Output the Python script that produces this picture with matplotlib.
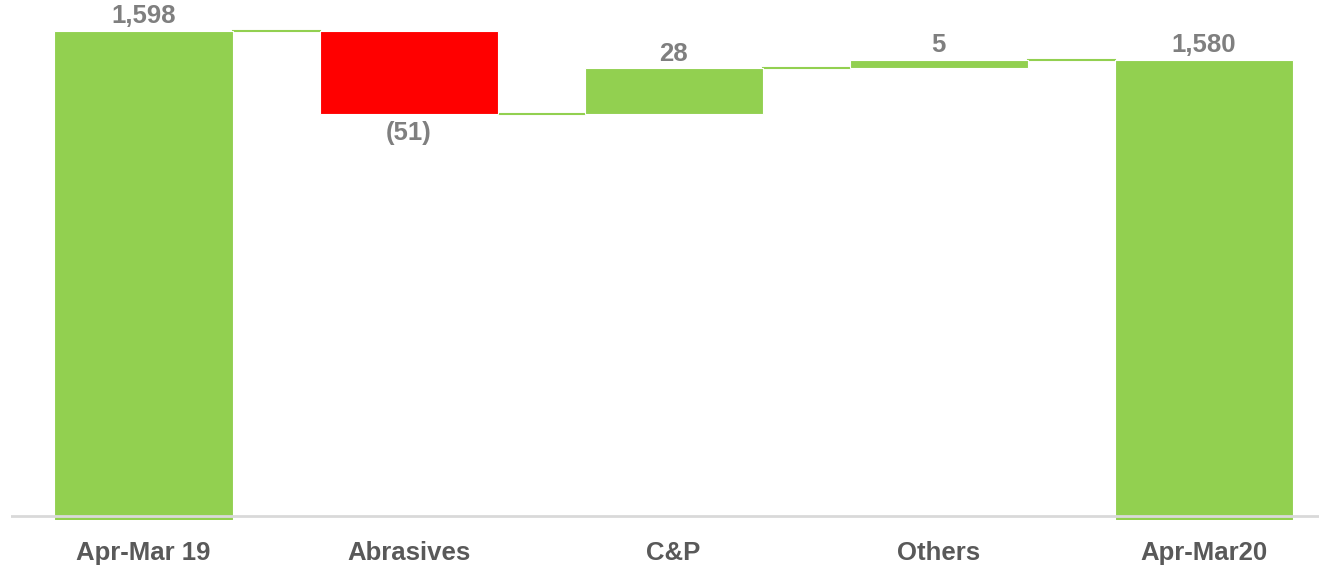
import matplotlib.pyplot as plt

categories = ['Apr-Mar 19', 'Abrasives', 'C&P', 'Others', 'Apr-Mar20']
changes = [1598, -51, 28, 5, 1580]
is_total = [True, False, False, False, True]
labels = ['1,598', '(51)', '28', '5', '1,580']

green = '#92D050'
red = '#FF0000'

plt.rcParams['font.family'] = ['Liberation Sans', 'DejaVu Sans']

fig = plt.figure(figsize=(13.19, 5.67), dpi=100)
ax = fig.add_axes([11 / 1319, 47 / 567, 1 - 11 / 1319, 520 / 567])

# work out bottoms / tops of the floating bars
bottoms, tops = [], []
running = 0
for val, tot in zip(changes, is_total):
    if tot:
        bottoms.append(0)
        tops.append(val)
        running = val
    else:
        start = running
        running = running + val
        bottoms.append(min(start, running))
        tops.append(max(start, running))

x = list(range(len(categories)))
width = 0.672
colors = [red if (not t and v < 0) else green for v, t in zip(changes, is_total)]
heights = [t - b for t, b in zip(tops, bottoms)]
ax.bar(x, heights, bottom=bottoms, width=width, color=colors,
       edgecolor='white', linewidth=0.8, zorder=3)

# connector lines between bars
levels = []
running = 0
for val, tot in zip(changes, is_total):
    running = val if tot else running + val
    levels.append(running)
for i in range(len(x) - 1):
    ax.plot([x[i] + width / 2, x[i + 1] - width / 2], [levels[i], levels[i]],
            color=green, lw=1.5, zorder=2)

# value labels
for i, (val, tot) in enumerate(zip(changes, is_total)):
    if val < 0 and not tot:
        ax.annotate(labels[i], (x[i], bottoms[i]), xytext=(0, -5),
                    textcoords='offset points', ha='center', va='top',
                    fontsize=18.5, fontweight='bold', color='#7F7F7F')
    else:
        ax.annotate(labels[i], (x[i], tops[i]), xytext=(0, 2),
                    textcoords='offset points', ha='center', va='bottom',
                    fontsize=18.5, fontweight='bold', color='#7F7F7F')

ax.axhline(1300, color='#D9D9D9', lw=2, zorder=4)
ax.set_ylim(1297.5, 1617)
ax.set_xlim(-0.5, 4.435)
ax.set_xticks(x)
ax.set_xticklabels(categories, fontsize=18.5, fontweight='bold', color='#595959')
ax.tick_params(axis='x', length=0, pad=15)
ax.set_yticks([])
for s in ax.spines.values():
    s.set_visible(False)

fig.savefig('out.png', dpi=100)
